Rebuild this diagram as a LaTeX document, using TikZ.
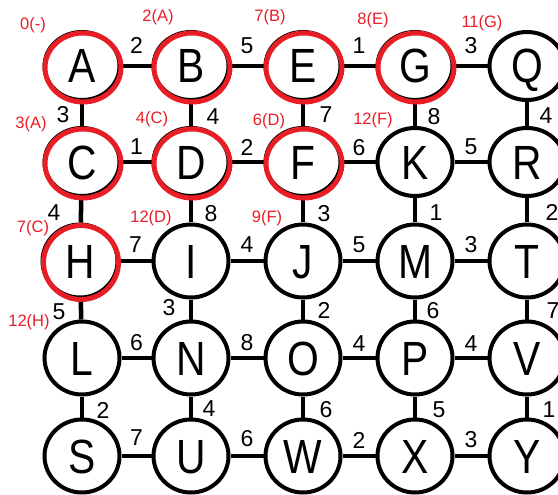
\documentclass[tikz,border=0pt]{standalone}
\usepackage{fontspec}
\setmainfont{Liberation Sans}
\usetikzlibrary{shapes.geometric}
\definecolor{rred}{RGB}{232,30,38}
\newcommand{\vtxt}[1]{\scalebox{0.85}[1]{#1}}
\begin{document}
\begin{tikzpicture}[x=1pt,y=-1pt,
  vtx/.style={ellipse, draw=black, line width=4pt, fill=white, minimum width=75pt,
    minimum height=68pt, inner sep=0pt, text height=34pt, text depth=0pt,
    font=\fontsize{48}{48}\selectfont},
  tall/.style={minimum height=73pt},
  link/.style={line width=4.5pt},
  wl/.style={font=\fontsize{23}{23}\selectfont, inner sep=0pt},
  dl/.style={text=rred, font=\fontsize{16.5}{16.5}\selectfont, inner sep=0pt},
  ring/.style={draw=rred, line width=5pt}]
\useasboundingbox (0,0) rectangle (558,495);
% row 1
\node[vtx] (A) at (82,66) {\vtxt{A}};
\node[vtx] (B) at (191,66) {\vtxt{B}};
\node[vtx] (E) at (303,66) {\vtxt{E}};
\node[vtx] (G) at (415,66) {\vtxt{G}};
\node[vtx] (Q) at (527,66) {\vtxt{Q}};
% row 2
\node[vtx] (C) at (82,162) {\vtxt{C}};
\node[vtx] (D) at (191,162) {\vtxt{D}};
\node[vtx] (F) at (303,162) {\vtxt{F}};
\node[vtx] (K) at (415,162) {\vtxt{K}};
\node[vtx] (R) at (527,162) {\vtxt{R}};
% row 3
\node[vtx,tall] (H) at (80,261) {\vtxt{H}};
\node[vtx,tall] (I) at (191,261) {\vtxt{I}};
\node[vtx,tall] (J) at (303,261) {\vtxt{J}};
\node[vtx,tall] (M) at (415,261) {\vtxt{M}};
\node[vtx,tall] (T) at (527,261) {\vtxt{T}};
% row 4
\node[vtx,tall] (L) at (82,358) {\vtxt{L}};
\node[vtx,tall] (N) at (191,358) {\vtxt{N}};
\node[vtx,tall] (O) at (303,358) {\vtxt{O}};
\node[vtx,tall] (P) at (415,358) {\vtxt{P}};
\node[vtx,tall] (V) at (527,358) {\vtxt{V}};
% row 5
\node[vtx,tall] (S) at (82,456) {\vtxt{S}};
\node[vtx,tall] (U) at (191,456) {\vtxt{U}};
\node[vtx,tall] (W) at (303,456) {\vtxt{W}};
\node[vtx,tall] (X) at (415,456) {\vtxt{X}};
\node[vtx,tall] (Y) at (527,456) {\vtxt{Y}};
% horizontal edges
\draw[link] (A) -- node[wl,yshift=21pt]{2} (B);
\draw[link] (B) -- node[wl,yshift=20pt]{5} (E);
\draw[link] (E) -- node[wl,yshift=20pt]{1} (G);
\draw[link] (G) -- node[wl,yshift=20pt]{3} (Q);
\draw[link] (C) -- node[wl,yshift=15pt]{1} (D);
\draw[link] (D) -- node[wl,yshift=15pt]{2} (F);
\draw[link] (F) -- node[wl,yshift=14pt]{6} (K);
\draw[link] (K) -- node[wl,yshift=15pt]{5} (R);
\draw[link] (H) -- node[wl,yshift=16pt]{7} (I);
\draw[link] (I) -- node[wl,yshift=16pt]{4} (J);
\draw[link] (J) -- node[wl,yshift=16pt]{5} (M);
\draw[link] (M) -- node[wl,yshift=16pt]{3} (T);
\draw[link] (L) -- node[wl,yshift=15pt]{6} (N);
\draw[link] (N) -- node[wl,yshift=15pt]{8} (O);
\draw[link] (O) -- node[wl,yshift=14pt]{4} (P);
\draw[link] (P) -- node[wl,yshift=14pt]{4} (V);
\draw[link] (S) -- node[wl,yshift=18pt]{7} (U);
\draw[link] (U) -- node[wl,yshift=17pt]{6} (W);
\draw[link] (W) -- node[wl,yshift=16pt]{2} (X);
\draw[link] (X) -- node[wl,yshift=16pt]{3} (Y);
% vertical edges
\draw[link] (A) -- node[wl,xshift=-19pt,yshift=-1pt]{3} (C);
\draw[link] (C) -- node[wl,xshift=-27pt,yshift=-2pt]{4} (H);
\draw[link] (H) -- node[wl,xshift=-22pt,yshift=-2pt]{5} (L);
\draw[link] (L) -- node[wl,xshift=21pt,yshift=-3pt]{2} (S);
\draw[link] (B) -- node[wl,xshift=22pt,yshift=-3pt]{4} (D);
\draw[link] (D) -- node[wl,xshift=20pt,yshift=-3pt]{8} (I);
\draw[link] (I) -- node[wl,xshift=-22pt,yshift=2pt]{3} (N);
\draw[link] (N) -- node[wl,xshift=18pt,yshift=-2pt]{4} (U);
\draw[link] (E) -- node[wl,xshift=23pt,yshift=-1pt]{7} (F);
\draw[link] (F) -- node[wl,xshift=21pt,yshift=-3pt]{3} (J);
\draw[link] (J) -- node[wl,xshift=21pt,yshift=-1pt]{2} (O);
\draw[link] (O) -- node[wl,xshift=23pt,yshift=-3pt]{6} (W);
\draw[link] (G) -- node[wl,xshift=19pt,yshift=-3pt]{8} (K);
\draw[link] (K) -- node[wl,xshift=21pt,yshift=-2pt]{1} (M);
\draw[link] (M) -- node[wl,xshift=18pt,yshift=-1pt]{6} (P);
\draw[link] (P) -- node[wl,xshift=24pt,yshift=-3pt]{5} (X);
\draw[link] (Q) -- node[wl,xshift=19pt,yshift=-2pt]{4} (R);
\draw[link] (R) -- node[wl,xshift=25pt,yshift=-2pt]{2} (T);
\draw[link] (T) -- node[wl,xshift=26pt,yshift=-1pt]{7} (V);
\draw[link] (V) -- node[wl,xshift=22pt,yshift=-3pt]{1} (Y);
% red rings of visited nodes
\foreach \n in {A,B,E,G,C,D,F}
  \draw[ring] ([shift={(1,1.5)}]\n.center) ellipse [x radius=38, y radius=34.5];
\draw[ring] ([shift={(1,1.5)}]H.center) ellipse [x radius=37.5, y radius=37];
% distance labels
\node[dl] (dA) at (33,25) {0(-)};
\node[dl] (dB) at (158,17) {2(A)};
\node[dl] (dE) at (270,17) {7(B)};
\node[dl] (dG) at (373,20) {8(E)};
\node[dl] (dQ) at (482,23) {11(G)};
\node[dl] (dC) at (31,124) {3(A)};
\node[dl] (dD) at (152,119) {4(C)};
\node[dl] (dF) at (269,121) {6(D)};
\node[dl] (dK) at (373,120) {12(F)};
\node[dl] (dH) at (33,228) {7(C)};
\node[dl] (dI) at (151,218) {12(D)};
\node[dl] (dJ) at (267,218) {9(F)};
\node[dl] (dL) at (29,322) {12(H)};
\end{tikzpicture}
\end{document}
